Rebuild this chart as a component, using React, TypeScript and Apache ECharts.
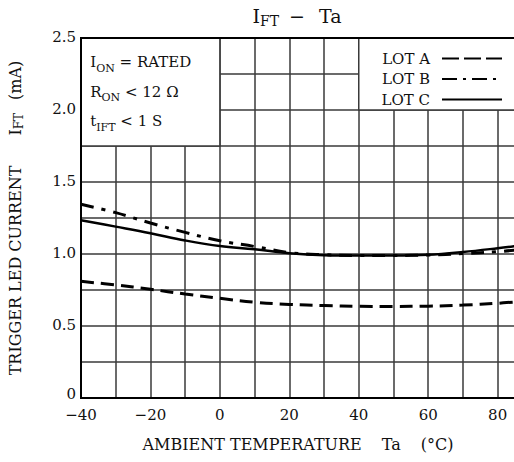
import React, { useEffect, useRef } from "react";
import * as echarts from "echarts";

// Ambient temperature (°C) sample points
const temps = [-40, -30, -20, -10, 0, 10, 20, 30, 40, 50, 60, 70, 80, 85];
// Trigger LED current I_FT (mA) per lot
const lotA = [0.81, 0.785, 0.755, 0.722, 0.692, 0.665, 0.65, 0.642, 0.637, 0.636, 0.638, 0.645, 0.658, 0.667];
const lotB = [1.345, 1.287, 1.215, 1.15, 1.092, 1.052, 1.01, 0.995, 0.99, 0.99, 0.993, 1.003, 1.016, 1.027];
const lotC = [1.235, 1.19, 1.144, 1.094, 1.055, 1.033, 1.005, 0.992, 0.99, 0.99, 0.995, 1.014, 1.04, 1.055];

const lotNames = ["LOT A", "LOT B", "LOT C"];

// Boxed regions of the plot (in data units) that hold the conditions note and the legend
const noteBox = [[-40, 1.75], [0, 2.5]];
const legendBox = [[40, 2.0], [85, 2.5]];

const FONT = "'DejaVu Serif', serif";
const INK = "#111";
const GRID_LINE = "#3a3a3a";

export default function App() {
  const ref = useRef<HTMLDivElement>(null);

  useEffect(() => {
    const chart = echarts.init(ref.current!, null, { renderer: "svg" });

    const main = (size: number, extra: object = {}) => ({
      fontSize: size,
      fontFamily: FONT,
      fontWeight: "normal",
      color: INK,
      ...extra,
    });
    const sub = (size: number, drop: number) => ({
      fontSize: size,
      fontFamily: FONT,
      fontWeight: "normal",
      color: INK,
      padding: [drop, 0, 0, 0],
    });

    const pairs = (ys: number[]) => temps.map((t, i) => [t, ys[i]]);

    const option: any = {
      animation: false,
      title: {
        text: "{m|I}{s|FT}{g| }{m|\u2212}{g2| }{m|Ta}",
        left: 297,
        top: 4,
        padding: 0,
        textAlign: "center",
        textStyle: {
          fontWeight: "normal",
          rich: {
            m: main(19),
            s: sub(14, 10),
            g: main(19, { width: 10 }),
            g2: main(19, { width: 14 }),
          },
        },
      },
      legend: {
        orient: "vertical",
        right: 11,
        top: 51,
        padding: 0,
        align: "right",
        itemWidth: 60,
        itemHeight: 14,
        itemGap: 5.5,
        selectedMode: false,
        itemStyle: { opacity: 0 },
        textStyle: { fontSize: 15, fontFamily: FONT, color: INK, lineHeight: 14, padding: [0, 7, 0, 0] },
        data: [
          { name: lotNames[0], lineStyle: { type: [17, 5] } },
          { name: lotNames[1], lineStyle: { type: [15, 6, 3, 6] } },
          { name: lotNames[2], lineStyle: { type: "solid" } },
        ],
      },
      grid: {
        left: 81,
        top: 38,
        right: -1,
        bottom: 64,
        show: true,
        borderColor: "#000",
        borderWidth: 2,
        backgroundColor: "transparent",
        z: 10,
        containLabel: false,
        outerBoundsMode: "none",
      },
      xAxis: {
        type: "value",
        min: -40,
        max: 85,
        interval: 10,
        axisLine: { show: false },
        axisTick: { show: false },
        splitLine: { show: true, lineStyle: { color: GRID_LINE, width: 1.5 } },
        axisLabel: {
          margin: 10,
          fontSize: 15,
          lineHeight: 13,
          fontFamily: FONT,
          color: INK,
          showMaxLabel: false,
          formatter: (v: number) =>
            v % 20 === 0 && v <= 80 ? (v < 0 ? "\u2212" + Math.abs(v) : String(v)) : "",
        },
        name: "{t|AMBIENT TEMPERATURE}{g| }{t|Ta}{g| }{t|(°C)}",
        nameLocation: "middle",
        nameGap: 38,
        nameTextStyle: {
          rich: {
            t: main(16),
            g: main(16, { width: 20 }),
          },
        },
      },
      yAxis: {
        type: "value",
        min: 0,
        max: 2.5,
        interval: 0.25,
        axisLine: { show: false },
        axisTick: { show: false },
        splitLine: { show: true, lineStyle: { color: GRID_LINE, width: 1.5 } },
        axisLabel: {
          margin: 5,
          fontSize: 15,
          lineHeight: 12,
          padding: [0, 0, 3, 0],
          fontFamily: FONT,
          color: INK,
          formatter: (v: number) => {
            const half = v * 2;
            if (Math.abs(half - Math.round(half)) > 1e-6) return "";
            // the zero label sits a touch higher so it clears the −40 below it
            return v === 0 ? "{z|0}" : v.toFixed(1);
          },
          rich: {
            z: main(15, { lineHeight: 12, padding: [0, 0, 5, 0] }),
          },
        },
        name: "{t|TRIGGER LED CURRENT}{g| }{t|I}{s|FT}{g2| }{t|(mA)}",
        nameLocation: "middle",
        nameRotate: 90,
        nameGap: 56,
        nameTextStyle: {
          rich: {
            t: main(16),
            s: sub(12, 8),
            g: main(16, { width: 30 }),
            g2: main(16, { width: 13 }),
          },
        },
      },
      series: [
        {
          name: lotNames[0],
          type: "line",
          data: pairs(lotA),
          smooth: 0.4,
          symbol: "none",
          z: 3,
          lineStyle: { color: "#000", width: 3, type: [13, 7] },
          markArea: {
            silent: true,
            itemStyle: { color: "#fff", opacity: 1, borderColor: GRID_LINE, borderWidth: 1.5 },
            label: { show: false },
            data: [
              [
                {
                  xAxis: noteBox[0][0],
                  yAxis: noteBox[0][1],
                  label: {
                    show: true,
                    position: "insideTopLeft",
                    distance: 10,
                    formatter:
                      "{m|I}{s|ON}{m| = RATED}\n{m|R}{s|ON}{m| < 12 \u03A9}\n{m|t}{s|IFT}{m| < 1 S}",
                    rich: {
                      m: main(15, { lineHeight: 29.5 }),
                      s: sub(11, 12),
                    },
                  },
                },
                { xAxis: noteBox[1][0], yAxis: noteBox[1][1] },
              ],
              [
                { xAxis: legendBox[0][0], yAxis: legendBox[0][1] },
                { xAxis: legendBox[1][0], yAxis: legendBox[1][1] },
              ],
            ],
          },
        },
        {
          name: lotNames[1],
          type: "line",
          data: pairs(lotB),
          smooth: 0.4,
          symbol: "none",
          z: 3,
          lineStyle: { color: "#000", width: 3, type: [13, 8, 4, 8] },
        },
        {
          name: lotNames[2],
          type: "line",
          data: pairs(lotC),
          smooth: 0.4,
          symbol: "none",
          z: 3,
          lineStyle: { color: "#000", width: 2.5, type: "solid" },
        },
      ],
    };

    chart.setOption(option);
    return () => chart.dispose();
  }, []);

  return (
    <div
      ref={ref}
      style={{ position: "fixed", left: 0, top: 0, width: 514, height: 462, background: "#fff" }}
    />
  );
}
